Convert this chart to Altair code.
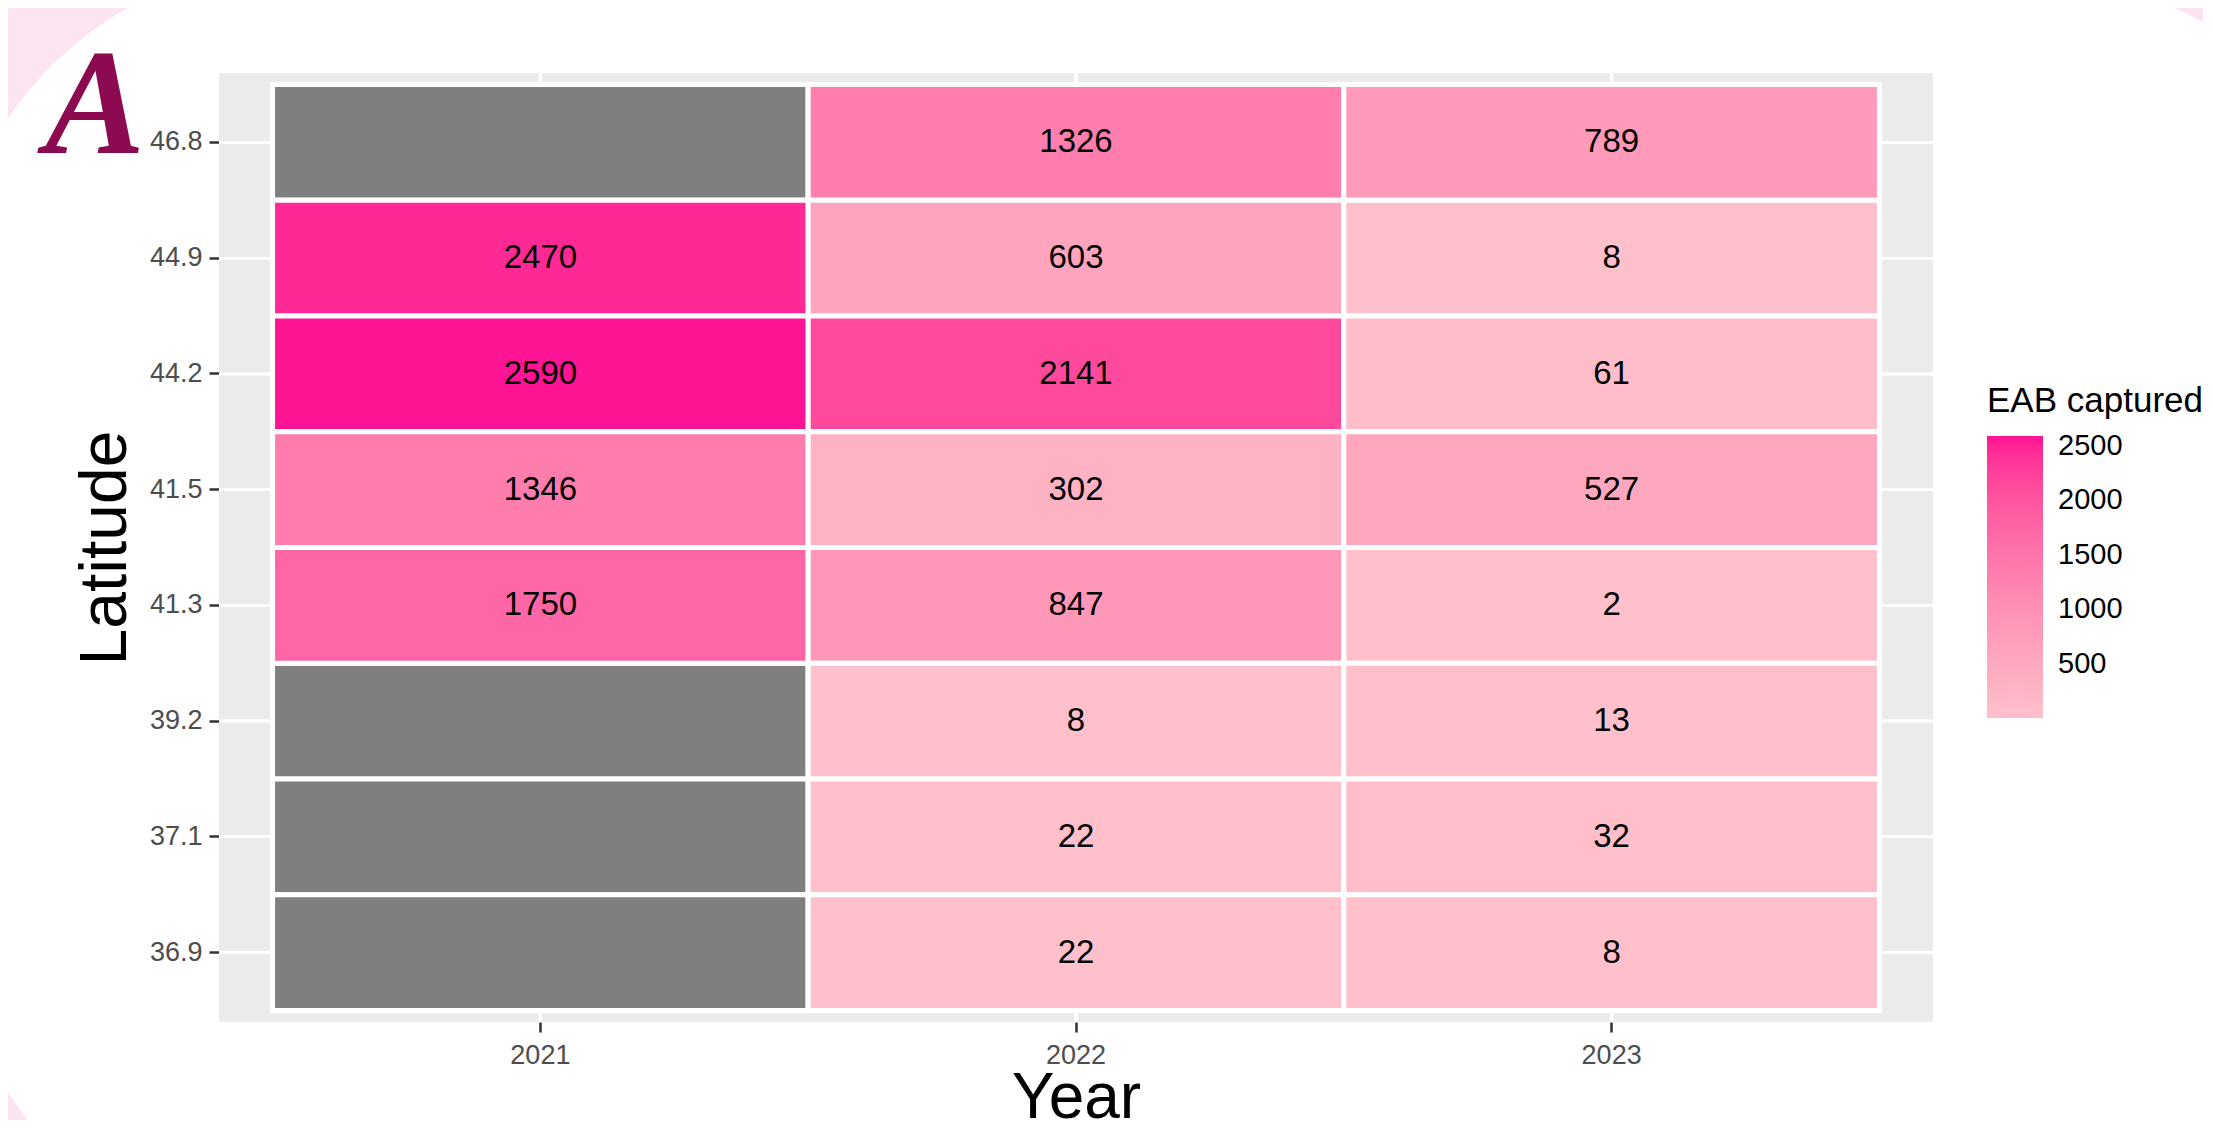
import altair as alt
import pandas as pd

years = ["2021", "2022", "2023"]
latitudes = ["46.8", "44.9", "44.2", "41.5", "41.3", "39.2", "37.1", "36.9"]
counts_2021 = [None, 2470, 2590, 1346, 1750, None, None, None]
counts_2022 = [1326, 603, 2141, 302, 847, 8, 22, 22]
counts_2023 = [789, 8, 61, 527, 2, 13, 32, 8]
legend_values = [500, 1000, 1500, 2000, 2500]

series = [counts_2021, counts_2022, counts_2023]
rows = []
for yr, vals in zip(years, series):
    for lat, v in zip(latitudes, vals):
        rows.append({"Year": yr, "Latitude": lat, "count": v})
df = pd.DataFrame(rows)

FONT = "Liberation Sans"
W, H = 1714, 949
PAD_L, PAD_T = 211, 65
TOTAL_W, TOTAL_H = 2195, 1112

x_enc = alt.X(
    "Year:O", sort=years,
    scale=alt.Scale(paddingInner=0, paddingOuter=0.1),
    axis=alt.Axis(
        title="Year", titleFont=FONT, titleFontSize=64, titleFontWeight="normal",
        titleColor="black", titleX=W / 2, titleY=95, titleBaseline="alphabetic",
        titleAlign="center",
        labelFont=FONT, labelFontSize=27, labelColor="#4D4D4D", labelPadding=10,
        labelAngle=0, tickSize=10, tickWidth=2.5, tickColor="#333333",
        domain=False, grid=False, bandPosition=0.5,
    ),
)
y_enc = alt.Y(
    "Latitude:O", sort=latitudes,
    scale=alt.Scale(paddingInner=0, paddingOuter=0.1),
    axis=alt.Axis(
        title="Latitude", titleFont=FONT, titleFontSize=66, titleFontWeight="normal",
        titleColor="black", titleAngle=270, titleX=-94, titleY=H / 2,
        titleBaseline="alphabetic", titleAlign="center",
        labelFont=FONT, labelFontSize=27, labelColor="#4D4D4D", labelPadding=7,
        tickSize=10, tickWidth=2.5, tickColor="#333333",
        domain=False, grid=False, bandPosition=0.5,
    ),
)

base = alt.Chart(df)

grid_x = base.mark_rule(color="white", strokeWidth=2.5).encode(
    x=x_enc, y=alt.value(0), y2=alt.value(H)
)
grid_y = base.mark_rule(color="white", strokeWidth=2.5).encode(
    y=y_enc, x=alt.value(0), x2=alt.value(W)
)

na_tiles = base.mark_rect(fill="#7F7F7F", stroke="white", strokeWidth=5).encode(
    x=x_enc, y=y_enc
)

tiles = base.transform_filter("datum.count != null").mark_rect(
    stroke="white", strokeWidth=5
).encode(
    x=x_enc, y=y_enc,
    color=alt.Color(
        "count:Q",
        scale=alt.Scale(domain=[2, 2590], range=["#FFC0CB", "#FF1493"], interpolate="lab"),
        legend=alt.Legend(
            title="EAB captured", orient="none", legendX=1768, legendY=311,
            direction="vertical", gradientLength=282, gradientThickness=56,
            gradientStrokeWidth=0, values=legend_values, padding=0, format="d",
            titleFont=FONT, titleFontSize=35, titleFontWeight="normal", titleColor="black",
            titleLimit=400, titlePadding=17,
            labelFont=FONT, labelFontSize=29, labelColor="black", labelOffset=15,
        ),
    ),
)

labels = base.transform_filter("datum.count != null").mark_text(
    font=FONT, fontSize=33, color="black"
).encode(
    x=x_enc, y=y_enc, text=alt.Text("count:Q", format="d")
)

PINK = "#FCE4F3"
one = alt.Data(values=[{"k": 1}])
R_IN, R_OUT = 352, 1200
tl = alt.Chart(one).mark_arc(
    color=PINK, theta=4.71239, theta2=6.28318, radius=R_IN, radius2=R_OUT
).encode(x=alt.value(81), y=alt.value(242))
tr = alt.Chart(one).mark_arc(
    color=PINK, theta=0, theta2=1.5708, radius=R_IN - 14, radius2=R_OUT
).encode(x=alt.value(1815), y=alt.value(242))
bl = alt.Chart(one).mark_arc(
    color=PINK, theta=3.14159, theta2=4.71239, radius=R_IN - 8, radius2=R_OUT
).encode(x=alt.value(81), y=alt.value(837))

logo = alt.Chart(one).mark_text(
    text="A", font="Liberation Serif", fontStyle="italic", fontWeight="bold",
    fontSize=150, color="#8B0A50", align="center", baseline="alphabetic",
).encode(x=alt.value(-124), y=alt.value(80))

chart = alt.layer(tl, tr, bl, grid_x, grid_y, na_tiles, tiles, labels, logo).properties(
    width=W, height=H,
    autosize=alt.AutoSizeParams(type="none"),
    padding={"left": PAD_L, "top": PAD_T, "right": TOTAL_W - PAD_L - W,
             "bottom": TOTAL_H - PAD_T - H},
    background="white",
).configure_view(fill="#EBEBEB", stroke=None)

chart.save("out.html", embed_options={"renderer": "svg", "actions": False})
